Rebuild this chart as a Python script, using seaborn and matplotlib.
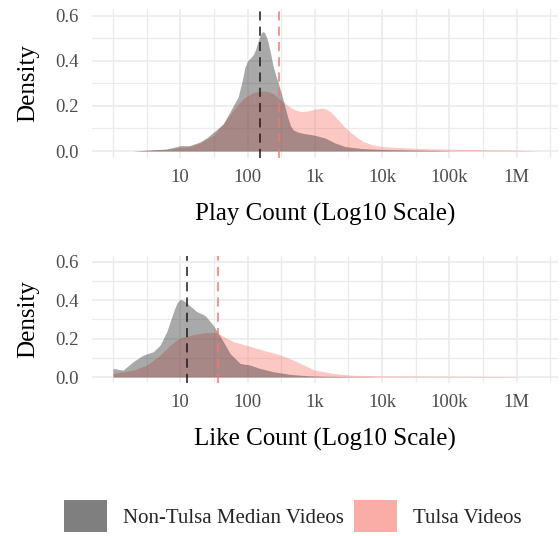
import numpy as np
import pandas as pd
import matplotlib
matplotlib.use("Agg")
import matplotlib.pyplot as plt
import seaborn as sns
from matplotlib.patches import Patch
from matplotlib.ticker import FixedLocator, FixedFormatter, NullFormatter

# ---------------- data ----------------
groups = ["Non-Tulsa Median Videos", "Tulsa Videos"]
group_colors = ["#2A2A2A", "#F8766D"]

# Play count densities (x given as log10 of play count)
play_nontulsa_log10 = [0.3, 0.5, 0.8, 1.0, 1.14, 1.29, 1.39, 1.5, 1.64, 1.75, 1.86, 1.92,
                       1.96, 2.0, 2.04, 2.08, 2.12, 2.16, 2.19, 2.22, 2.25, 2.28, 2.31, 2.345,
                       2.38, 2.42, 2.46, 2.53, 2.6, 2.64, 2.68, 2.74, 2.8,
                       3.0, 3.15, 3.3, 3.45, 3.7, 4.0, 4.5, 5.0]
play_nontulsa_density = [0.0, 0.004, 0.009, 0.024, 0.024, 0.04, 0.058, 0.085, 0.12, 0.18, 0.24, 0.31,
                         0.37, 0.40, 0.412, 0.425, 0.45, 0.49, 0.515, 0.53, 0.527, 0.508, 0.479, 0.43,
                         0.378, 0.335, 0.30, 0.227, 0.148, 0.112, 0.094, 0.085, 0.080,
                         0.070, 0.058, 0.036, 0.02, 0.011, 0.007, 0.004, 0.001]

play_tulsa_log10 = [0.3, 0.5, 0.8, 1.0, 1.14, 1.29, 1.5, 1.64, 1.79, 1.94, 2.08, 2.17, 2.26, 2.32, 2.38,
                    2.5, 2.63, 2.72, 2.8, 2.9, 3.0, 3.1, 3.16, 3.22, 3.3, 3.37, 3.45, 3.52, 3.62, 3.72,
                    3.85, 4.02, 4.5, 5.0, 5.5, 6.0, 6.35]
play_tulsa_density = [0.0, 0.003, 0.008, 0.016, 0.02, 0.036, 0.071, 0.123, 0.182, 0.234, 0.259, 0.265, 0.266,
                      0.262, 0.255, 0.225, 0.195, 0.181, 0.175, 0.178, 0.186, 0.19, 0.188, 0.177, 0.155,
                      0.13, 0.105, 0.086, 0.062, 0.042, 0.028, 0.019, 0.012, 0.008, 0.006, 0.004, 0.0]

# Like count densities (x given as log10 of like count)
like_nontulsa_log10 = [0.0, 0.15, 0.3, 0.45, 0.6, 0.7, 0.8, 0.9, 0.95, 1.0, 1.05, 1.14, 1.24, 1.37, 1.49,
                       1.615, 1.74, 1.89, 2.04, 2.18, 2.38, 2.63, 2.88, 3.1, 3.5, 4.0]
like_nontulsa_density = [0.045, 0.036, 0.08, 0.114, 0.132, 0.166, 0.236, 0.34, 0.385, 0.405, 0.398, 0.372, 0.342,
                         0.32, 0.27, 0.2, 0.123, 0.071, 0.062, 0.045, 0.028, 0.014, 0.007, 0.004, 0.002, 0.0]

like_tulsa_log10 = [0.0, 0.3, 0.5, 0.7, 0.85, 1.0, 1.24, 1.39, 1.54, 1.64, 1.79, 1.98, 2.23,
                    2.5, 2.68, 2.85, 3.0, 3.27, 3.52, 4.0, 5.0, 6.0]
like_tulsa_density = [0.019, 0.036, 0.062, 0.114, 0.166, 0.205, 0.224, 0.232, 0.232, 0.212, 0.184, 0.166, 0.14,
                      0.114, 0.088, 0.06, 0.036, 0.019, 0.01, 0.006, 0.004, 0.002]

# Medians (dashed lines)
play_medians = [153, 293]
like_medians = [12.8, 35.9]

tick_values = [10, 100, 1000, 10000, 100000, 1000000]
tick_labels = ["10", "100", "1k", "10k", "100k", "1M"]
minor_values = [1, 10 ** 0.5, 10 ** 1.5, 10 ** 2.5, 10 ** 3.5, 10 ** 4.5, 10 ** 5.5, 10 ** 6.5]
y_major = [0.0, 0.2, 0.4, 0.6]
y_minor = [0.1, 0.3, 0.5]

x_titles = ["Play Count (Log10 Scale)", "Like Count (Log10 Scale)"]

# ---------------- style ----------------
sns.set_theme(style="white")
plt.rcParams["font.family"] = ["Liberation Serif", "DejaVu Serif"]

W, H = 560, 536
fig = plt.figure(figsize=(W / 100, H / 100), dpi=100)

left = 91.7 / W
width = (558 - 91.7) / W
ax_top = fig.add_axes([left, 1 - 157.8 / H, width, (157.8 - 9.0) / H])
ax_bot = fig.add_axes([left, 1 - 382.8 / H, width, (382.8 - 256.0) / H])

panels = [
    (ax_top,
     [(play_tulsa_log10, play_tulsa_density), (play_nontulsa_log10, play_nontulsa_density)],
     play_medians),
    (ax_bot,
     [(like_tulsa_log10, like_tulsa_density), (like_nontulsa_log10, like_nontulsa_density)],
     like_medians),
]

for ax, curves, medians in panels:
    ax.set_xscale("log")
    # draw Tulsa first, then Non-Tulsa on top
    for (lx, dens), color in zip(curves, [group_colors[1], group_colors[0]]):
        xv = 10 ** np.asarray(lx, dtype=float)
        ax.fill_between(xv, 0, dens, color=color, alpha=0.4, linewidth=0, zorder=2)
    ax.axvline(medians[0], color="#1A1A1A", lw=1.1, ls=(0, (6, 4)), zorder=3)
    ax.axvline(medians[1], color=group_colors[1], lw=1.1, ls=(0, (6, 4)), zorder=3)

    ax.set_xlim(10 ** -0.316, 10 ** 6.615)
    ax.set_ylim(-0.03, 0.63)
    ax.xaxis.set_major_locator(FixedLocator(tick_values))
    ax.xaxis.set_major_formatter(FixedFormatter(tick_labels))
    ax.xaxis.set_minor_locator(FixedLocator(minor_values))
    ax.xaxis.set_minor_formatter(NullFormatter())
    ax.yaxis.set_major_locator(FixedLocator(y_major))
    ax.yaxis.set_minor_locator(FixedLocator(y_minor))
    ax.set_yticklabels([f"{v:.1f}" for v in y_major])

    ax.grid(which="major", color="#EBEBEB", lw=1.2, zorder=0)
    ax.grid(which="minor", color="#EBEBEB", lw=0.9, zorder=0)
    ax.set_axisbelow(True)
    for s in ax.spines.values():
        s.set_visible(False)
    ax.tick_params(axis="both", which="both", length=0)
    ax.tick_params(axis="x", which="major", pad=8, labelsize=13.5, labelcolor="#4D4D4D")
    ax.tick_params(axis="y", which="major", pad=9.5, labelsize=13.5, labelcolor="#4D4D4D")
    ax.set_facecolor("white")

# axis titles
fig.text(324.9 / W, 1 - 214 / H, x_titles[0], ha="center", va="center", fontsize=18, color="black")
fig.text(324.9 / W, 1 - 439 / H, x_titles[1], ha="center", va="center", fontsize=18, color="black")
fig.text(28 / W, 1 - 83 / H, "Density", rotation=90, ha="center", va="center", fontsize=18, color="black")
fig.text(28 / W, 1 - 319 / H, "Density", rotation=90, ha="center", va="center", fontsize=18, color="black")

# legend
handles = [Patch(facecolor=c, alpha=0.6, edgecolor="none") for c in group_colors]
fig.legend(handles, groups, loc="center", bbox_to_anchor=(292.7 / W, 1 - 516 / H),
           ncol=2, frameon=False, fontsize=15, handlelength=2.07, handleheight=1.92,
           handletextpad=0.75, columnspacing=0.48, borderpad=0, borderaxespad=0)

fig.savefig("out.png", dpi=100)
